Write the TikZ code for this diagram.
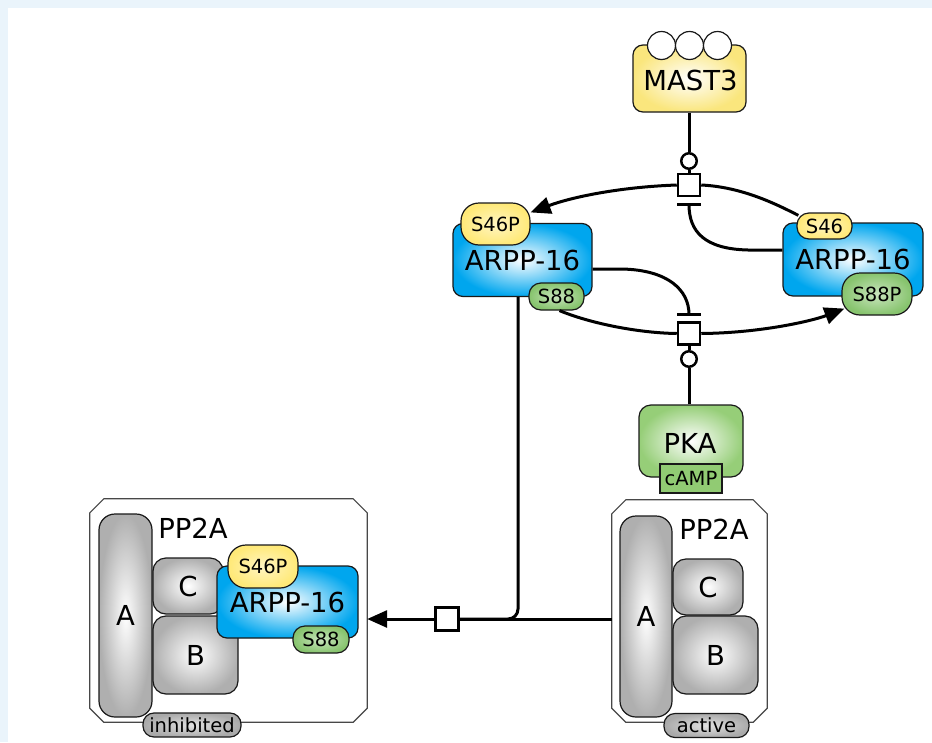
\documentclass[tikz,border=0pt]{standalone}
\usepackage{fontspec}
\setmainfont{DejaVu Sans}
\usetikzlibrary{arrows.meta}

\definecolor{pagebg}{RGB}{234,244,251}
\definecolor{edge}{RGB}{25,25,25}
\definecolor{arppblue}{RGB}{0,166,238}
\definecolor{mastyellow}{RGB}{250,230,125}
\definecolor{tagyellow}{RGB}{255,233,120}
\definecolor{taggreen}{RGB}{135,196,110}
\definecolor{pkagreen}{RGB}{150,206,120}
\definecolor{campgreen}{RGB}{145,203,115}
\definecolor{subgrey}{RGB}{175,175,175}
\definecolor{pillgrey}{RGB}{170,170,170}

\newcommand\bigfont{\fontsize{27.5pt}{30pt}\selectfont}
\newcommand\smallfont{\fontsize{19.5pt}{21pt}\selectfont}
% octagonal complex outline drawn around a named rectangle node
\newcommand\complexoutline[1]{%
  \draw[draw=edge!80, line width=1.2pt, fill=white]
    ([xshift=14pt]#1.north west) -- ([xshift=-14pt]#1.north east)
    -- ([yshift=-14pt]#1.north east) -- ([yshift=14pt]#1.south east)
    -- ([xshift=-14pt]#1.south east) -- ([xshift=14pt]#1.south west)
    -- ([yshift=14pt]#1.south west) -- ([yshift=-14pt]#1.north west) -- cycle;}

\begin{document}
\begin{tikzpicture}[x=1pt,y=-1pt,
  mol/.style={draw=edge, line width=1.2pt, inner sep=0pt, rounded corners=10pt, font=\bigfont},
  arppbox/.style={mol, inner color=white, outer color=arppblue},
  mastbox/.style={mol, inner color=white, outer color=mastyellow},
  pkabox/.style={mol, rounded corners=12pt, inner color=white, outer color=pkagreen},
  subunit/.style={mol, inner color=white, outer color=subgrey},
  tagY/.style={mol, font=\smallfont, inner color=tagyellow!45!white, outer color=tagyellow},
  tagG/.style={mol, font=\smallfont, inner color=taggreen!45!white, outer color=taggreen},
  pill/.style={mol, font=\smallfont, rounded corners=11pt, inner color=pillgrey!35!white, outer color=pillgrey},
  complexbox/.style={inner sep=0pt},
  label/.style={inner sep=0pt, font=\bigfont},
  procbox/.style={draw=black, line width=2.5pt, fill=white, inner sep=0pt, minimum size=22pt},
  catring/.style={circle, draw=black, line width=2.5pt, fill=white, inner sep=0pt, minimum size=15.5pt},
  flow/.style={draw=black, line width=3pt},
  prod/.style={flow, -{Triangle[length=20pt,width=17pt]}},
  inhibbar/.style={draw=black, line width=3pt}
]
\useasboundingbox (0,0) rectangle (932,742);
\fill[pagebg] (0,0) rectangle (932,742);
\fill[white] (8,8) rectangle (932,742);

% ---------- MAST3 with its three state circles ----------
\node[mastbox, minimum width=113pt, minimum height=67pt] (mast) at (689.5,78.5) {};
\node[label] (masttxt) at (690.5,80.5) {MAST3};
\foreach \cx/\nm in {661.5/u1, 689.5/u2, 717.5/u3}
  \node[circle, draw=edge, line width=1.2pt, fill=white, inner sep=0pt, minimum size=28pt] (\nm) at (\cx,45.5) {};

% ---------- free ARPP-16 forms ----------
\node[arppbox, minimum width=139pt, minimum height=73pt] (arppL) at (522.5,260) {ARPP-16};
\node[tagY, rounded corners=18pt, minimum width=69pt, minimum height=42pt] (s46L) at (495.5,224) {S46P};
\node[tagG, rounded corners=12pt, minimum width=55pt, minimum height=27pt] (s88L) at (556.5,296.5) {S88};

\node[arppbox, minimum width=140pt, minimum height=73pt] (arppR) at (853,259.5) {ARPP-16};
\node[tagY, rounded corners=12pt, minimum width=55pt, minimum height=26pt] (s46R) at (824.5,226) {S46};
\node[tagG, rounded corners=18pt, minimum width=70pt, minimum height=42pt] (s88R) at (877,294) {S88P};

% ---------- PKA with cAMP ----------
\node[pkabox, minimum width=104pt, minimum height=72pt] (pka) at (691,441) {};
\node[label] (pkatxt) at (690,443) {PKA};
\node[draw=edge, line width=1.2pt, fill=campgreen, inner sep=0pt, font=\smallfont,
      minimum width=62pt, minimum height=29pt] (camp) at (691,478.5) {cAMP};

% ---------- PP2A, inhibited ----------
\node[complexbox, minimum width=277pt, minimum height=223pt] (pp2aL) at (228.5,610.5) {};
\complexoutline{pp2aL}
\node[label] (pp2aLtxt) at (193,528) {PP2A};
\node[subunit, rounded corners=16pt, minimum width=53pt, minimum height=203pt] (aL) at (125.5,615.5) {A};
\node[subunit, rounded corners=13pt, minimum width=70pt, minimum height=56pt] (cL) at (188,586) {C};
\node[subunit, rounded corners=13pt, minimum width=85pt, minimum height=78pt] (bL) at (195.5,655) {B};
\node[arppbox, minimum width=141pt, minimum height=72pt] (arppC) at (287.5,602) {ARPP-16};
\node[tagY, rounded corners=18pt, minimum width=70pt, minimum height=43pt] (s46C) at (263,566.5) {S46P};
\node[tagG, rounded corners=12pt, minimum width=56pt, minimum height=27pt] (s88C) at (321,639.5) {S88};
\node[pill, minimum width=98pt, minimum height=24pt] (inhib) at (192,725) {inhibited};

% ---------- PP2A, active ----------
\node[complexbox, minimum width=155pt, minimum height=222pt] (pp2aR) at (689.5,611) {};
\complexoutline{pp2aR}
\node[label] (pp2aRtxt) at (714,529) {PP2A};
\node[subunit, rounded corners=16pt, minimum width=52pt, minimum height=201pt] (aR) at (646,616.5) {A};
\node[subunit, rounded corners=13pt, minimum width=70pt, minimum height=56pt] (cR) at (708,587) {C};
\node[subunit, rounded corners=13pt, minimum width=85pt, minimum height=78pt] (bR) at (715.5,655) {B};
\node[pill, minimum width=85pt, minimum height=24pt] (activ) at (706.5,725.5) {active};

% ---------- process nodes, catalysis rings, inhibition bars ----------
\node[procbox] (pt1) at (689,185) {};
\node[procbox] (pt2) at (689,333.5) {};
\node[procbox, minimum size=23pt] (pt3) at (447,619) {};
\node[catring] (cat1) at (689,161) {};
\node[catring] (cat2) at (689,359) {};
\coordinate (bar1) at (689,204.5);
\coordinate (bar2) at (689,314.5);

% ---------- connectors ----------
% MAST3 phosphorylates S46
\draw[flow] (cat1 |- mast.south) -- (cat1);
\draw[flow] (cat1) -- (pt1);
\draw[prod] (pt1.west) .. controls (620,187) and (572,197) .. ([yshift=-10pt]s46L.north east);
\draw[flow] (pt1.east) .. controls (742,187) and (776,204) .. ([xshift=2pt,yshift=-3pt]s46R.north west);
\draw[inhibbar] ([xshift=-12pt]bar1) -- ([xshift=12pt]bar1);
\draw[flow] ([yshift=9.5pt]arppR.west) -- (748,250) .. controls (705,249) and (689,232) .. (bar1);

% PKA phosphorylates S88
\draw[flow] (cat2 |- pka.north) -- (cat2);
\draw[flow] (cat2) -- (pt2);
\draw[flow] ([xshift=3pt]s88L.south) .. controls (592,324) and (640,333) .. (pt2.west);
\draw[prod] (pt2.east) .. controls (760,333) and (812,321) .. ([xshift=3pt,yshift=7pt]s88R.south west);
\draw[inhibbar] ([xshift=-12pt]bar2) -- ([xshift=12pt]bar2);
\draw[flow] ([yshift=-9pt]arppL.east) -- (622,269) .. controls (668,270) and (689,290) .. (bar2);

% ARPP-16 (S46P) binds active PP2A
\draw[flow] (pt3.east -| pp2aR.west) -- (pt3.east);
\draw[flow, rounded corners=10pt] ([xshift=-4.5pt]arppL.south) |- (pt3.east);
\draw[prod] (pt3.west) -- (pt3.west -| pp2aL.east);
\end{tikzpicture}
\end{document}
